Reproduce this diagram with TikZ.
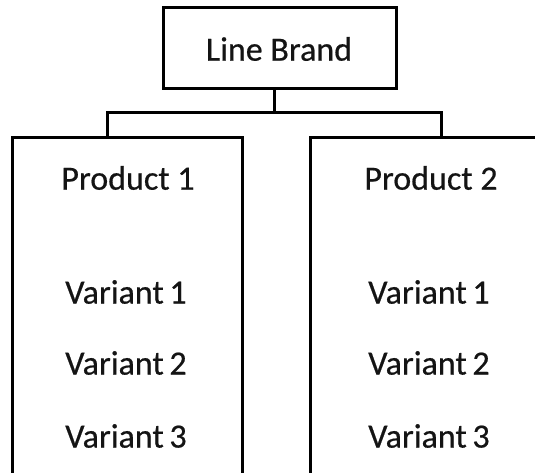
\documentclass[tikz,border=0pt]{standalone}
\usepackage{fontspec}
\setmainfont[FakeBold=0.5]{Carlito}
\begin{document}
\begin{tikzpicture}[x=1pt,y=-1pt,
  box/.style={draw=black,line width=3pt,fill=white,inner sep=0pt},
  lbl/.style={font=\fontsize{34}{40}\selectfont,text=black!92,inner sep=0pt,anchor=center},
  conn/.style={draw=black,line width=3pt}]
\useasboundingbox[fill=white] (0,0) rectangle (535,473);
\clip (0,0) rectangle (535,473);
% boxes
\node[box,minimum width=233pt,minimum height=81pt] (top) at (279.5,48.5) {};
\node[box,minimum width=230pt,minimum height=400pt] (p1) at (127,338) {};
\node[box,minimum width=250pt,minimum height=400pt] (p2) at (435,338) {};
% labels
\node[lbl] (tl) at (279,49) {Line Brand};
\node[lbl] (a0) at (128,178) {Product 1};
\node[lbl] (a1) at (126,292) {Variant\,1};
\node[lbl] (a2) at (126,363) {Variant\,2};
\node[lbl] (a3) at (126,436) {Variant\,3};
\node[lbl] (b0) at (431,178) {Product 2};
\node[lbl] (b1) at (429,292) {Variant\,1};
\node[lbl] (b2) at (429,363) {Variant\,2};
\node[lbl] (b3) at (429,436) {Variant\,3};
% connectors
\coordinate (j) at (274,113);
\coordinate (l1) at (107,138);
\coordinate (r1) at (441,138);
\draw[conn] (top.south -| j) -- (j);
\draw[conn] (l1) |- (j) -| (r1);
\end{tikzpicture}
\end{document}
